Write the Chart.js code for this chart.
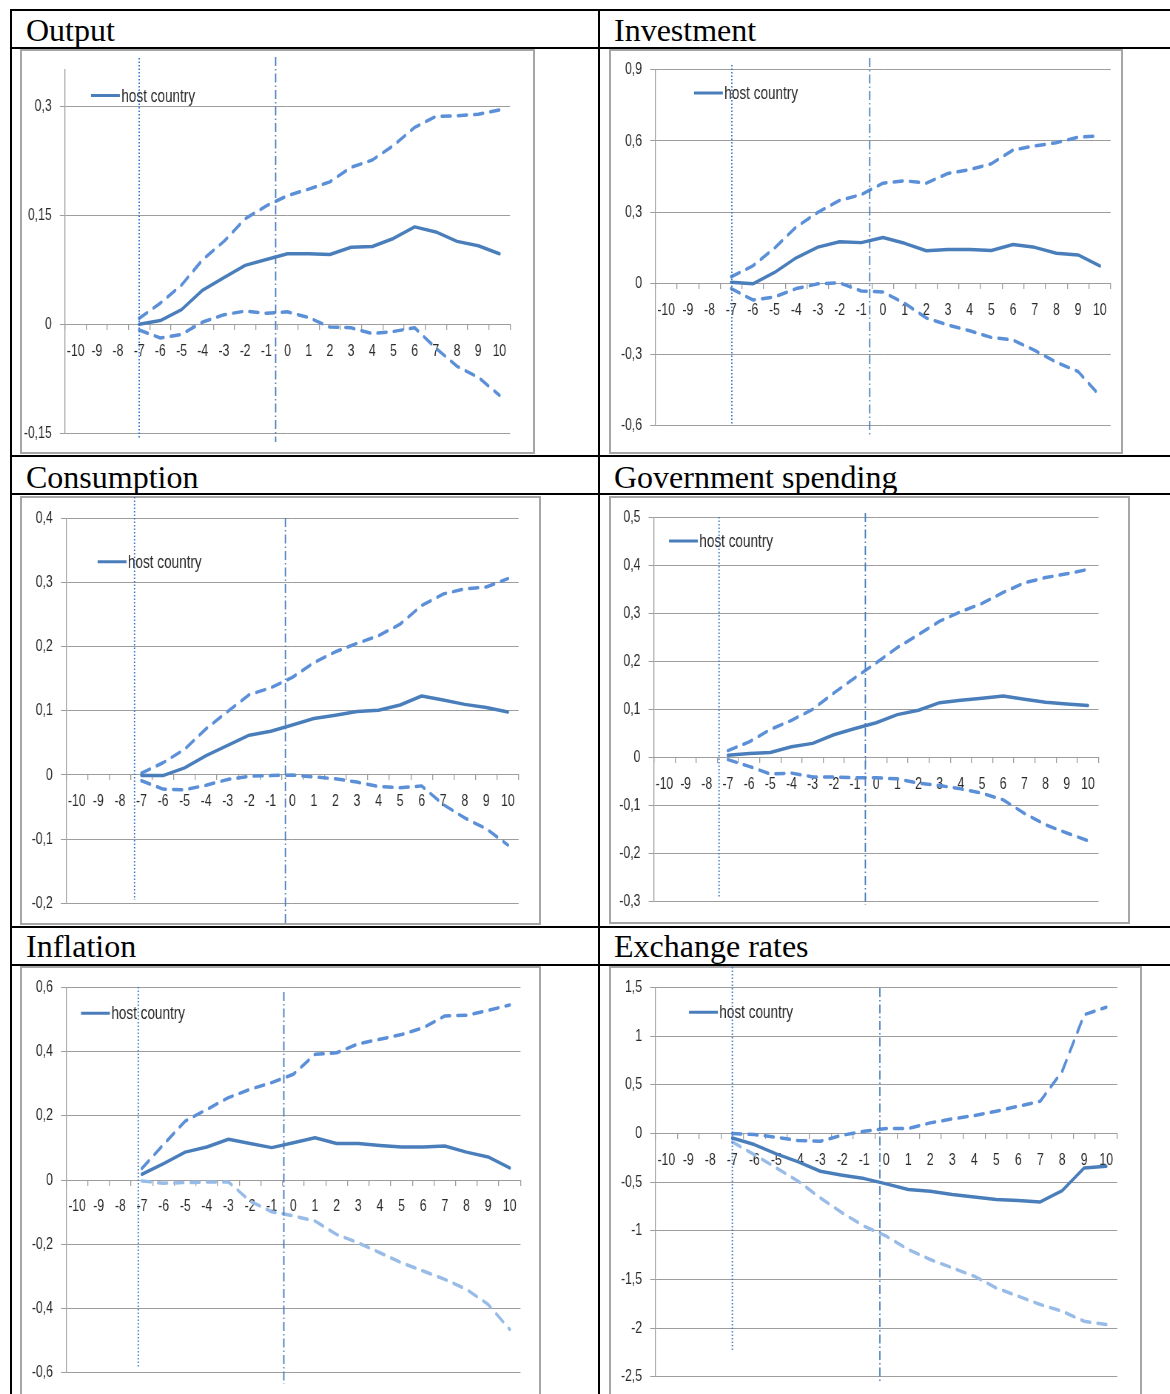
<!DOCTYPE html>
<html>
<head>
<meta charset="utf-8">
<script src="https://cdn.jsdelivr.net/npm/chart.js@4.4.1/dist/chart.umd.min.js"></script>
<style>
  html, body { margin: 0; padding: 0; background: #fff; }
  body { width: 1170px; height: 1394px; position: relative; overflow: hidden; }
  .rule { position: absolute; background: #000; }
  .title { position: absolute; font-family: "Liberation Serif", "Times New Roman", serif;
           font-size: 32px; line-height: 32px; color: #000; white-space: nowrap; }
  .frame { position: absolute; box-sizing: border-box; border: 2px solid #a6a6a6; }
  .plot { position: absolute; overflow: hidden; }
  .plot .inner { position: absolute; left: 0; top: 0; transform-origin: 0 0; }
</style>
</head>
<body>
<script>
// Event horizon (quarters relative to the event)
const periods = ['-10','-9','-8','-7','-6','-5','-4','-3','-2','-1','0','1','2','3','4','5','6','7','8','9','10'];
const firstPeriod = '-7';

// Output
const outputMid   = [0.000, 0.005, 0.020, 0.047, 0.064, 0.081, 0.089, 0.097, 0.097, 0.096, 0.106, 0.107, 0.118, 0.134, 0.127, 0.114, 0.108, 0.097];
const outputUpper = [0.008, 0.029, 0.054, 0.089, 0.114, 0.145, 0.163, 0.177, 0.186, 0.196, 0.216, 0.226, 0.246, 0.271, 0.286, 0.287, 0.289, 0.295];
const outputLower = [-0.008, -0.019, -0.014, 0.003, 0.013, 0.018, 0.015, 0.017, 0.009, -0.004, -0.005, -0.013, -0.010, -0.005, -0.033, -0.058, -0.073, -0.098];
const outputTicks = [-0.15, 0, 0.15, 0.3];

// Investment
const investMid   = [0.004, -0.003, 0.045, 0.107, 0.152, 0.175, 0.171, 0.193, 0.168, 0.137, 0.142, 0.142, 0.138, 0.163, 0.151, 0.126, 0.119, 0.073];
const investUpper = [0.027, 0.073, 0.148, 0.237, 0.299, 0.349, 0.374, 0.422, 0.432, 0.422, 0.463, 0.479, 0.504, 0.562, 0.579, 0.593, 0.616, 0.621];
const investLower = [-0.023, -0.071, -0.058, -0.023, -0.003, 0.001, -0.033, -0.037, -0.085, -0.147, -0.177, -0.201, -0.229, -0.240, -0.284, -0.334, -0.373, -0.475];
const investTicks = [-0.6, -0.3, 0, 0.3, 0.6, 0.9];

// Consumption
const consMid   = [-0.001, -0.001, 0.011, 0.030, 0.046, 0.062, 0.068, 0.078, 0.088, 0.093, 0.099, 0.101, 0.109, 0.123, 0.117, 0.110, 0.105, 0.098];
const consUpper = [0.003, 0.019, 0.040, 0.072, 0.099, 0.125, 0.136, 0.152, 0.175, 0.192, 0.205, 0.217, 0.235, 0.264, 0.282, 0.290, 0.293, 0.306];
const consLower = [-0.009, -0.022, -0.023, -0.016, -0.007, -0.002, -0.001, 0.000, -0.003, -0.006, -0.011, -0.018, -0.020, -0.017, -0.046, -0.067, -0.084, -0.109];
const consTicks = [-0.2, -0.1, 0, 0.1, 0.2, 0.3, 0.4];

// Government spending
const govMid   = [0.004, 0.008, 0.010, 0.022, 0.029, 0.047, 0.060, 0.072, 0.089, 0.098, 0.114, 0.119, 0.123, 0.128, 0.121, 0.115, 0.111, 0.108];
const govUpper = [0.014, 0.032, 0.058, 0.077, 0.100, 0.134, 0.166, 0.197, 0.229, 0.256, 0.284, 0.304, 0.321, 0.344, 0.364, 0.375, 0.383, 0.392];
const govLower = [-0.005, -0.019, -0.035, -0.033, -0.041, -0.041, -0.043, -0.043, -0.045, -0.054, -0.059, -0.066, -0.075, -0.089, -0.117, -0.141, -0.158, -0.174];
const govTicks = [-0.3, -0.2, -0.1, 0, 0.1, 0.2, 0.3, 0.4, 0.5];

// Inflation
const inflMid   = [0.018, 0.051, 0.087, 0.103, 0.127, 0.114, 0.101, 0.116, 0.132, 0.114, 0.114, 0.108, 0.103, 0.103, 0.106, 0.087, 0.072, 0.038];
const inflUpper = [0.036, 0.111, 0.184, 0.220, 0.257, 0.283, 0.304, 0.330, 0.392, 0.397, 0.425, 0.439, 0.454, 0.475, 0.512, 0.514, 0.529, 0.546];
const inflLower = [-0.003, -0.010, -0.008, -0.006, -0.006, -0.066, -0.099, -0.112, -0.128, -0.170, -0.196, -0.227, -0.258, -0.284, -0.310, -0.341, -0.388, -0.466];
const inflTicks = [-0.6, -0.4, -0.2, 0, 0.2, 0.4, 0.6];

// Exchange rates
const fxMid   = [-0.045, -0.113, -0.209, -0.291, -0.387, -0.428, -0.463, -0.517, -0.576, -0.593, -0.627, -0.651, -0.679, -0.689, -0.703, -0.586, -0.353, -0.336];
const fxUpper = [0.000, -0.010, -0.038, -0.072, -0.079, -0.017, 0.024, 0.051, 0.051, 0.110, 0.151, 0.185, 0.230, 0.281, 0.332, 0.641, 1.223, 1.299];
const fxLower = [-0.086, -0.216, -0.353, -0.490, -0.661, -0.816, -0.953, -1.055, -1.192, -1.295, -1.381, -1.467, -1.587, -1.672, -1.758, -1.827, -1.930, -1.964];
const fxTicks = [-2.5, -2, -1.5, -1, -0.5, 0, 0.5, 1, 1.5];

// ---- styling ----
const SOLID = '#4a7ebb';
const DASHED = '#5b8fd7';
const DASHED_LIGHT = '#98bbe7';
const GRID = '#9d9d9d';
const TEXT = '#2a2a2a';
const FONT = '"Liberation Sans", Arial, sans-serif';
const SQUEEZE = 0.74;   // chart objects are drawn horizontally compressed

// page layout: frames, plot boxes and annotation placement (page pixels)
const panels = [
  { title: 'Output', titlePos: [26, 14], mid: outputMid, upper: outputUpper, lower: outputLower, ticks: outputTicks,
    yMin: -0.15, yMax: 0.35, lowerColor: DASHED,
    frame: { x: 20, y: 49, w: 515, h: 405 }, plot: { l: 65, t: 70, r: 510, b: 440 },
    legend: { x: 91, y: 95.5 }, dotted: { at: 3.0, y1: 58, y2: 438 }, dashDot: { at: 9.44, y1: 57, y2: 442 } },
  { title: 'Investment', titlePos: [614, 14], mid: investMid, upper: investUpper, lower: investLower, ticks: investTicks,
    yMin: -0.6, yMax: 0.9, lowerColor: DASHED,
    frame: { x: 609, y: 49, w: 514, h: 405 }, plot: { l: 655.3, t: 60.3, r: 1110.6, b: 425.3 },
    legend: { x: 694, y: 93 }, dotted: { at: 3.03, y1: 65, y2: 425 }, dashDot: { at: 9.39, y1: 58, y2: 435 } },
  { title: 'Consumption', titlePos: [26, 461], mid: consMid, upper: consUpper, lower: consLower, ticks: consTicks,
    yMin: -0.2, yMax: 0.4, lowerColor: DASHED,
    frame: { x: 20, y: 496, w: 521, h: 429 }, plot: { l: 66, t: 518.3, r: 518.6, b: 903.3 },
    legend: { x: 97.6, y: 561.7 }, dotted: { at: 2.68, y1: 497, y2: 900 }, dashDot: { at: 9.68, y1: 518, y2: 925 } },
  { title: 'Government spending', titlePos: [614, 461], mid: govMid, upper: govUpper, lower: govLower, ticks: govTicks,
    yMin: -0.3, yMax: 0.5, lowerColor: DASHED,
    frame: { x: 609, y: 496, w: 521, h: 428 }, plot: { l: 653.8, t: 517.7, r: 1098.5, b: 901 },
    legend: { x: 669, y: 541 }, dotted: { at: 2.58, y1: 517, y2: 898 }, dashDot: { at: 9.49, y1: 513, y2: 905 } },
  { title: 'Inflation', titlePos: [26, 930], mid: inflMid, upper: inflUpper, lower: inflLower, ticks: inflTicks,
    yMin: -0.6, yMax: 0.6, lowerColor: DASHED_LIGHT,
    frame: { x: 20, y: 966, w: 521, h: 444 }, plot: { l: 66.2, t: 987.7, r: 520.5, b: 1372.3 },
    legend: { x: 81, y: 1013.3 }, dotted: { at: 2.83, y1: 987, y2: 1368 }, dashDot: { at: 9.56, y1: 992, y2: 1384 } },
  { title: 'Exchange rates', titlePos: [614, 930], mid: fxMid, upper: fxUpper, lower: fxLower, ticks: fxTicks,
    yMin: -2.5, yMax: 1.5, lowerColor: DASHED_LIGHT,
    frame: { x: 609, y: 966, w: 533, h: 444 }, plot: { l: 655.3, t: 987.7, r: 1117.2, b: 1376.7 },
    legend: { x: 689, y: 1012.3 }, dotted: { at: 3.0, y1: 967, y2: 1352 }, dashDot: { at: 9.71, y1: 988, y2: 1384 } }
];

// table rules
const hRules = [9, 47, 455, 493, 926, 964];
const vRules = [10, 598];

function addDiv(cls, css, text) {
  const d = document.createElement('div');
  d.className = cls;
  Object.assign(d.style, css);
  if (text) d.textContent = text;
  document.body.appendChild(d);
  return d;
}

hRules.forEach(y => addDiv('rule', { left: '10px', top: y + 'px', width: '1160px', height: '2px' }));
vRules.forEach(x => addDiv('rule', { left: x + 'px', top: '9px', width: '2px', height: '1385px' }));

const startIndex = periods.indexOf(firstPeriod);
const toPoints = arr => arr.map((v, i) => ({ x: periods[startIndex + i], y: v }));

// reference lines and in-plot legend
const overlayPlugin = {
  id: 'overlay',
  afterDraw(chart, args, opts) {
    const { ctx, scales: { x } } = chart;
    const ds = chart.data.datasets[0];
    ctx.save();
    // legend entry
    const lx = opts.toX(opts.legend.x), ly = opts.toY(opts.legend.y);
    ctx.strokeStyle = ds.borderColor;
    ctx.lineWidth = 3;
    ctx.setLineDash([]);
    ctx.beginPath();
    ctx.moveTo(lx, ly);
    ctx.lineTo(lx + 39, ly);
    ctx.stroke();
    ctx.fillStyle = TEXT;
    ctx.font = '18.3px ' + FONT;
    ctx.textAlign = 'left';
    ctx.textBaseline = 'middle';
    ctx.fillText(ds.label, lx + 41, ly + 1);
    // dotted marker line
    let px = x.getPixelForValue(opts.dotted.at);
    ctx.strokeStyle = '#3573cc';
    ctx.lineWidth = 1.8;
    ctx.setLineDash([1.5, 2]);
    ctx.beginPath();
    ctx.moveTo(px, opts.toY(opts.dotted.y1));
    ctx.lineTo(px, opts.toY(opts.dotted.y2));
    ctx.stroke();
    // dash-dot marker line
    px = x.getPixelForValue(opts.dashDot.at);
    ctx.strokeStyle = '#4a7ebb';
    ctx.lineWidth = 1.8;
    ctx.setLineDash([9, 3, 1.5, 3]);
    ctx.beginPath();
    ctx.moveTo(px, opts.toY(opts.dashDot.y1));
    ctx.lineTo(px, opts.toY(opts.dashDot.y2));
    ctx.stroke();
    ctx.restore();
  }
};

panels.forEach(p => {
  addDiv('title', { left: p.titlePos[0] + 'px', top: p.titlePos[1] + 'px' }, p.title);
  addDiv('frame', { left: p.frame.x + 'px', top: p.frame.y + 'px', width: p.frame.w + 'px', height: p.frame.h + 'px' });

  const holder = addDiv('plot', { left: p.frame.x + 'px', top: p.frame.y + 'px', width: p.frame.w + 'px', height: p.frame.h + 'px' });
  const W = Math.round(p.frame.w / SQUEEZE), H = p.frame.h;
  const inner = document.createElement('div');
  inner.className = 'inner';
  inner.style.width = W + 'px';
  inner.style.height = H + 'px';
  inner.style.transform = 'scaleX(' + SQUEEZE + ')';
  holder.appendChild(inner);
  const canvas = document.createElement('canvas');
  canvas.width = W;
  canvas.height = H;
  inner.appendChild(canvas);

  const toX = sx => (sx - p.frame.x) / SQUEEZE;
  const toY = sy => sy - p.frame.y;
  const yAxisWidth = toX(p.plot.l);

  new Chart(canvas, {
    type: 'line',
    data: {
      labels: periods,
      datasets: [
        { label: 'host country', data: toPoints(p.mid), borderColor: SOLID, borderWidth: 3.5 },
        { label: 'upper band', data: toPoints(p.upper), borderColor: DASHED, borderWidth: 3.5, borderDash: [12, 10] },
        { label: 'lower band', data: toPoints(p.lower), borderColor: p.lowerColor, borderWidth: 3.5, borderDash: [12, 10] }
      ]
    },
    options: {
      responsive: false,
      animation: false,
      devicePixelRatio: 1,
      layout: { padding: { left: 0, top: toY(p.plot.t), right: W - toX(p.plot.r), bottom: H - toY(p.plot.b) } },
      elements: {
        point: { radius: 0 },
        line: { tension: 0, fill: false, borderCapStyle: 'round', borderJoinStyle: 'round' }
      },
      plugins: {
        legend: { display: false },
        tooltip: { enabled: false },
        overlay: { toX, toY, legend: p.legend, dotted: p.dotted, dashDot: p.dashDot }
      },
      scales: {
        x: {
          type: 'category',
          position: { y: 0 },
          offset: true,
          grid: { offset: true, drawOnChartArea: false, drawTicks: true, tickLength: 5, color: GRID, lineWidth: 1.3 },
          border: { display: true, color: GRID, width: 1 },
          ticks: { autoSkip: false, maxRotation: 0, minRotation: 0, padding: 12, color: TEXT,
                   font: { family: FONT, size: 16.5 } }
        },
        y: {
          type: 'linear',
          min: p.yMin,
          max: p.yMax,
          afterBuildTicks: s => { s.ticks = p.ticks.map(v => ({ value: v })); },
          afterFit: s => { s.width = yAxisWidth; },
          grid: { color: GRID, lineWidth: 1, tickLength: 7 },
          border: { display: true, color: GRID, width: 1.3 },
          ticks: { padding: 11, color: TEXT, font: { family: FONT, size: 16.5 },
                   callback: v => String(v).replace('.', ',') }
        }
      }
    },
    plugins: [overlayPlugin]
  });
});
</script>
</body>
</html>
